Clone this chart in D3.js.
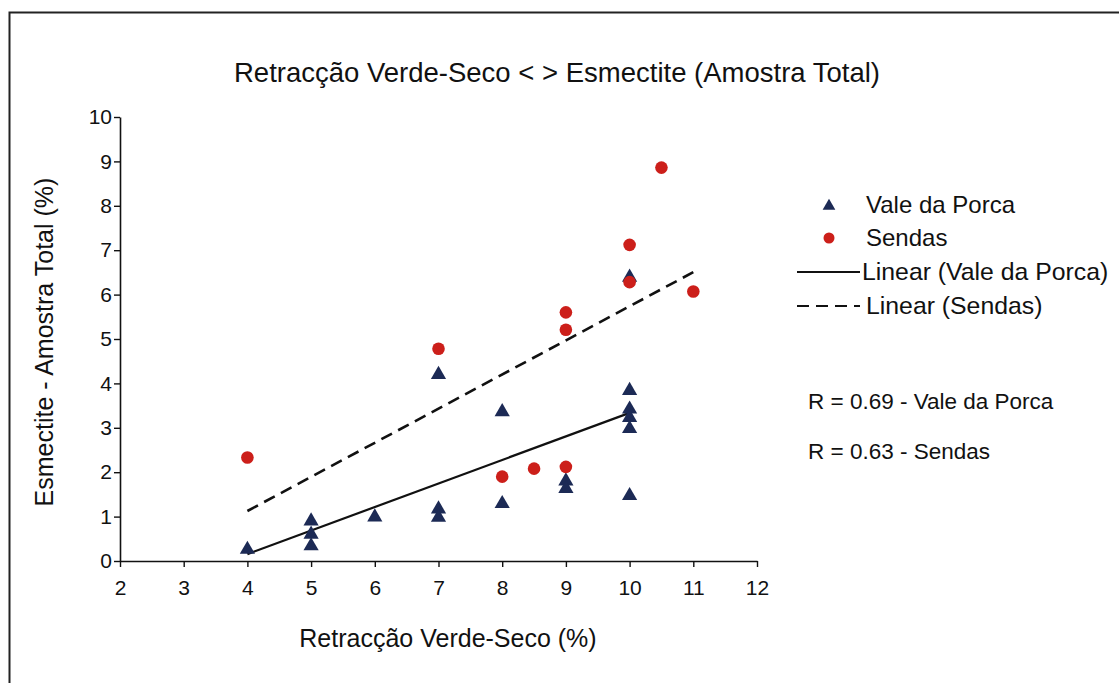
<!DOCTYPE html>
<html><head><meta charset="utf-8">
<script src="https://cdn.jsdelivr.net/npm/d3@7"></script>
<style>body{margin:0;background:#fff}svg{display:block;font-family:"Liberation Sans",Arial,sans-serif}</style>
</head><body>
<svg id="c" width="1119" height="683"></svg>
<script>
const title = "Retracção Verde-Seco < > Esmectite (Amostra Total)";
const xLabel = "Retracção Verde-Seco (%)";
const yLabel = "Esmectite - Amostra Total (%)";
const xTicks = [2,3,4,5,6,7,8,9,10,11,12];
const yTicks = [0,1,2,3,4,5,6,7,8,9,10];
const valeX = [4,5,5,5,6,7,7,7,8,8,9,9,10,10,10,10,10,10];
const valeY = [0.26,0.90,0.60,0.34,0.99,4.20,1.17,0.98,3.36,1.29,1.80,1.63,1.47,3.84,3.42,3.23,2.98,6.39];
const sendasX = [4,7,8,8.5,9,9,9,10,10,10.5,11];
const sendasY = [2.33,4.78,1.90,2.08,2.12,5.21,5.60,7.12,6.28,8.86,6.07];
const seriesNames = ["Vale da Porca","Sendas","Linear (Vale da Porca)","Linear (Sendas)"];
const rNotes = ["R = 0.69 - Vale da Porca","R = 0.63 - Sendas"];

const svg = d3.select("#c");
const navy = "#1c2a55", red = "#cc1f1a";
svg.append("rect").attr("x",9.5).attr("y",12.5).attr("width",1200).attr("height",800)
  .attr("fill","none").attr("stroke","#222").attr("stroke-width",2);

const x = d3.scaleLinear().domain([2,12]).range([120,757]);
const y = d3.scaleLinear().domain([0,10]).range([561,117]);

svg.append("text").attr("x",557).attr("y",82).attr("text-anchor","middle")
  .attr("font-size",27.5).attr("fill","#111").text(title);

const gx = svg.append("g").attr("transform","translate(0,561)")
  .call(d3.axisBottom(x).tickValues(xTicks).tickSize(6).tickSizeOuter(0).tickFormat(d3.format("d")));
const gy = svg.append("g").attr("transform","translate(120,0)")
  .call(d3.axisLeft(y).tickValues(yTicks).tickSize(6).tickSizeOuter(0).tickFormat(d3.format("d")));
[gx,gy].forEach(g=>{
  g.select(".domain").attr("stroke","#111").attr("stroke-width",1.6);
  g.selectAll(".tick line").attr("stroke","#111").attr("stroke-width",1.4);
  g.selectAll(".tick text").attr("font-size",21).attr("fill","#111").attr("font-family","Liberation Sans, Arial, sans-serif");
});
gx.selectAll(".tick text").attr("dy","1.2em");
gy.selectAll(".tick text").attr("x",-8).attr("dx",0);

svg.append("text").attr("x",448).attr("y",647).attr("text-anchor","middle")
  .attr("font-size",25).attr("fill","#111").text(xLabel);
svg.append("text").attr("transform","translate(53,342) rotate(-90)").attr("text-anchor","middle")
  .attr("font-size",25).attr("fill","#111").text(yLabel);

function fit(xs, ys){
  const mx=d3.mean(xs), my=d3.mean(ys);
  let sxy=0,sxx=0; xs.forEach((v,i)=>{sxy+=(v-mx)*(ys[i]-my); sxx+=(v-mx)*(v-mx);});
  const b=sxy/sxx, a=my-b*mx;
  const x0=d3.min(xs), x1=d3.max(xs);
  return [[x0,a+b*x0],[x1,a+b*x1]];
}
const line = d3.line().x(d=>x(d[0])).y(d=>y(d[1]));
svg.append("path").attr("d",line(fit(valeX,valeY))).attr("stroke","#111").attr("stroke-width",2.2).attr("fill","none");
svg.append("path").attr("d",line(fit(sendasX,sendasY))).attr("stroke","#111").attr("stroke-width",2.6).attr("fill","none").attr("stroke-dasharray","12,7");

const tri = d3.symbol().type(d3.symbolTriangle).size(100);
svg.append("g").selectAll("path").data(valeX.map((v,i)=>[v,valeY[i]])).join("path")
  .attr("d",tri).attr("transform",d=>`translate(${x(d[0])},${y(d[1])})`).attr("fill",navy);
svg.append("g").selectAll("circle").data(sendasX.map((v,i)=>[v,sendasY[i]])).join("circle")
  .attr("cx",d=>x(d[0])).attr("cy",d=>y(d[1])).attr("r",6.3).attr("fill",red);

// legend
const lg = svg.append("g").attr("font-size",24).attr("fill","#111");
lg.append("path").attr("d",d3.symbol().type(d3.symbolTriangle).size(70)).attr("transform","translate(829,206)").attr("fill",navy);
lg.append("circle").attr("cx",829).attr("cy",238).attr("r",5.5).attr("fill",red);
lg.append("line").attr("x1",797).attr("x2",860).attr("y1",272).attr("y2",272).attr("stroke","#111").attr("stroke-width",2);
lg.append("line").attr("x1",797).attr("x2",860).attr("y1",306).attr("y2",306).attr("stroke","#111").attr("stroke-width",2).attr("stroke-dasharray","12,7");
const lx=[866,866,862,866], ly=[213,246,280,314], ls=[24,24,24.8,24.8];
seriesNames.forEach((s,i)=>lg.append("text").attr("x",lx[i]).attr("y",ly[i]).attr("font-size",ls[i]).text(s));
rNotes.forEach((s,i)=>lg.append("text").attr("x",808).attr("y",[409,459][i]).attr("font-size",22.5).text(s));
</script>
</body></html>
